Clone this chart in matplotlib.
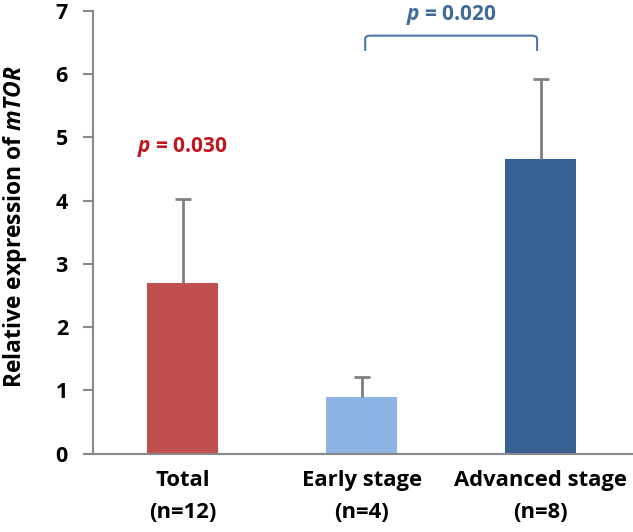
import matplotlib
matplotlib.use("Agg")
import matplotlib.pyplot as plt
from matplotlib.path import Path
from matplotlib.patches import PathPatch

categories = ["Total\n(n=12)", "Early stage\n(n=4)", "Advanced stage\n(n=8)"]
means = [2.69, 0.90, 4.66]
errors = [1.34, 0.31, 1.27]
colors = ["#C0504D", "#8DB4E2", "#376092"]
yticks = [0, 1, 2, 3, 4, 5, 6, 7]
p_total = "0.030"
p_compare = "0.020"

plt.rcParams['font.family'] = ['Open Sans', 'DejaVu Sans']
plt.rcParams['mathtext.fontset'] = 'custom'
plt.rcParams['mathtext.bfit'] = 'Open Sans:italic:bold'

fig = plt.figure(figsize=(6.33, 5.32), dpi=100)
ax = fig.add_axes([93/633, 1 - 453.5/532, (632-93)/633, (453.5-11)/532])

x = list(range(len(categories)))
ax.bar(x, means, width=0.4, color=colors, zorder=2)
eb = ax.errorbar(x, means, yerr=[[0]*3, errors], fmt='none', ecolor='#808080',
                 elinewidth=2, capsize=6, capthick=2, zorder=3)
eb[1][0].set_visible(False)

ax.set_xlim(-0.5, 2.51)
ax.set_ylim(0, 7)
ax.set_yticks(yticks)
ax.set_yticklabels([str(t) for t in yticks], fontsize=15.5, fontweight='bold')
ax.set_xticks(x)
ax.set_xticklabels(categories, fontsize=15.8, fontweight='bold', linespacing=1.7)
ax.tick_params(axis='x', length=0, pad=12)
ax.tick_params(axis='y', length=7, width=1.5, color='#888888', pad=11)
for s in ['top', 'right']:
    ax.spines[s].set_visible(False)
for s in ['left', 'bottom']:
    ax.spines[s].set_color('#888888')
    ax.spines[s].set_linewidth(1.5)

ax.set_ylabel(r"Relative expression of $\mathbfit{mTOR}$", fontsize=16.5, fontweight='bold')
ax.yaxis.set_label_coords(-0.118, 0.513)

ax.text(0, 4.85, r"$\mathbfit{p}$ = " + p_total, color="#C0161E", fontsize=15,
        fontweight='bold', ha='center', va='center')

# bracket
x0, x1 = 1.02, 1.98
ytop, ybot = 6.61, 6.37
r = 0.03
verts = [(x0, ybot), (x0, ytop - 0.05), (x0, ytop), (x0 + r, ytop),
         (x1 - r, ytop), (x1, ytop), (x1, ytop - 0.05), (x1, ybot)]
codes = [Path.MOVETO, Path.LINETO, Path.CURVE3, Path.CURVE3,
         Path.LINETO, Path.CURVE3, Path.CURVE3, Path.LINETO]
ax.add_patch(PathPatch(Path(verts, codes), fill=False, edgecolor="#4A76A8", lw=1.5))
ax.text((x0 + x1) / 2, 6.93, r"$\mathbfit{p}$ = " + p_compare, color="#3F6A99", fontsize=15,
        fontweight='bold', ha='center', va='center', clip_on=False)

fig.savefig("out.png", dpi=100)
